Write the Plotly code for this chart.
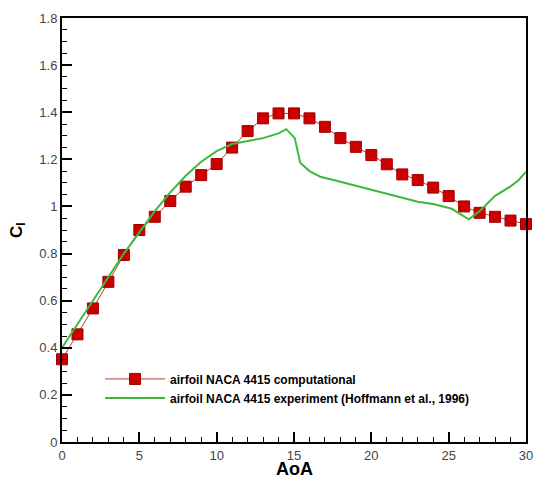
import plotly.graph_objects as go

aoa_comp = list(range(0, 31))
cl_comp = [0.351, 0.457, 0.567, 0.680, 0.794, 0.900, 0.956, 1.023, 1.084, 1.133,
           1.180, 1.250, 1.320, 1.374, 1.395, 1.395, 1.374, 1.338, 1.290, 1.253,
           1.218, 1.179, 1.136, 1.112, 1.080, 1.044, 1.000, 0.973, 0.956, 0.940, 0.925]

aoa_exp = [0, 1, 2, 3, 4, 5, 6, 7, 8, 9, 10, 11, 12, 13, 14, 14.5, 15.05, 15.4,
           16, 16.7, 18, 20, 22, 23, 24, 25.2, 26.3, 27, 28, 29, 29.5, 30]
cl_exp = [0.400, 0.500, 0.600, 0.700, 0.800, 0.890, 0.980, 1.060, 1.130, 1.190,
          1.235, 1.265, 1.278, 1.290, 1.310, 1.328, 1.290, 1.186,
          1.150, 1.126, 1.105, 1.070, 1.035, 1.020, 1.010, 0.990, 0.945, 0.980,
          1.045, 1.085, 1.110, 1.147]

x_title = "<b>AoA</b>"
y_title = "<b>C<sub>l</sub></b>"

fig = go.Figure()
fig.add_trace(go.Scatter(
    x=aoa_comp, y=cl_comp, mode="lines+markers",
    name="airfoil NACA 4415 computational",
    line=dict(color="#b04040", width=1),
    marker=dict(symbol="square", size=11, color="#cc0000",
                line=dict(color="#a00000", width=1)),
    cliponaxis=False,
))
fig.add_trace(go.Scatter(
    x=aoa_exp, y=cl_exp, mode="lines",
    name="airfoil NACA 4415 experiment (Hoffmann et al., 1996)",
    line=dict(color="#3cb93c", width=2),
))

axis_common = dict(
    showgrid=False, zeroline=False, showline=True, linecolor="black",
    linewidth=2, mirror=True, ticks="inside", ticklen=10, tickwidth=2,
    tickcolor="black", automargin=False, ticklabeloverflow="allow",
    tickfont=dict(family="Liberation Sans, Arial", size=13, color="#444"),
)

fig.update_xaxes(
    range=[0, 30], tick0=0, dtick=5,
    minor=dict(ticks="inside", ticklen=5, tickwidth=1, tickcolor="black", dtick=1),
    **axis_common,
)
fig.update_yaxes(
    range=[0, 1.8], tick0=0, dtick=0.2,
    minor=dict(ticks="inside", ticklen=5, tickwidth=1, tickcolor="black", dtick=0.05),
    **axis_common,
)

fig.add_annotation(
    text=x_title, xref="paper", yref="paper", x=0.5, y=0,
    xanchor="center", yanchor="middle", yshift=-27, showarrow=False,
    font=dict(family="Liberation Sans, Arial", size=18, color="black"),
)
fig.add_annotation(
    text=y_title, xref="paper", yref="paper", x=-0.095, y=0.50,
    xanchor="center", yanchor="middle", textangle=-90, showarrow=False,
    font=dict(family="Liberation Sans, Arial", size=17, color="black"),
)

fig.update_layout(
    width=533, height=480,
    margin=dict(l=62, r=7, t=18, b=38),
    plot_bgcolor="white", paper_bgcolor="white",
    showlegend=True,
    legend=dict(
        x=0.082, y=0.183, xanchor="left", yanchor="top",
        bgcolor="rgba(0,0,0,0)", borderwidth=0,
        font=dict(family="Liberation Sans, Arial", size=12, color="black", weight="bold"),
        itemwidth=60, tracegroupgap=0,
    ),
)

fig.write_html("out.html", config={"displayModeBar": False},
               post_script="document.body.style.margin='0';")
